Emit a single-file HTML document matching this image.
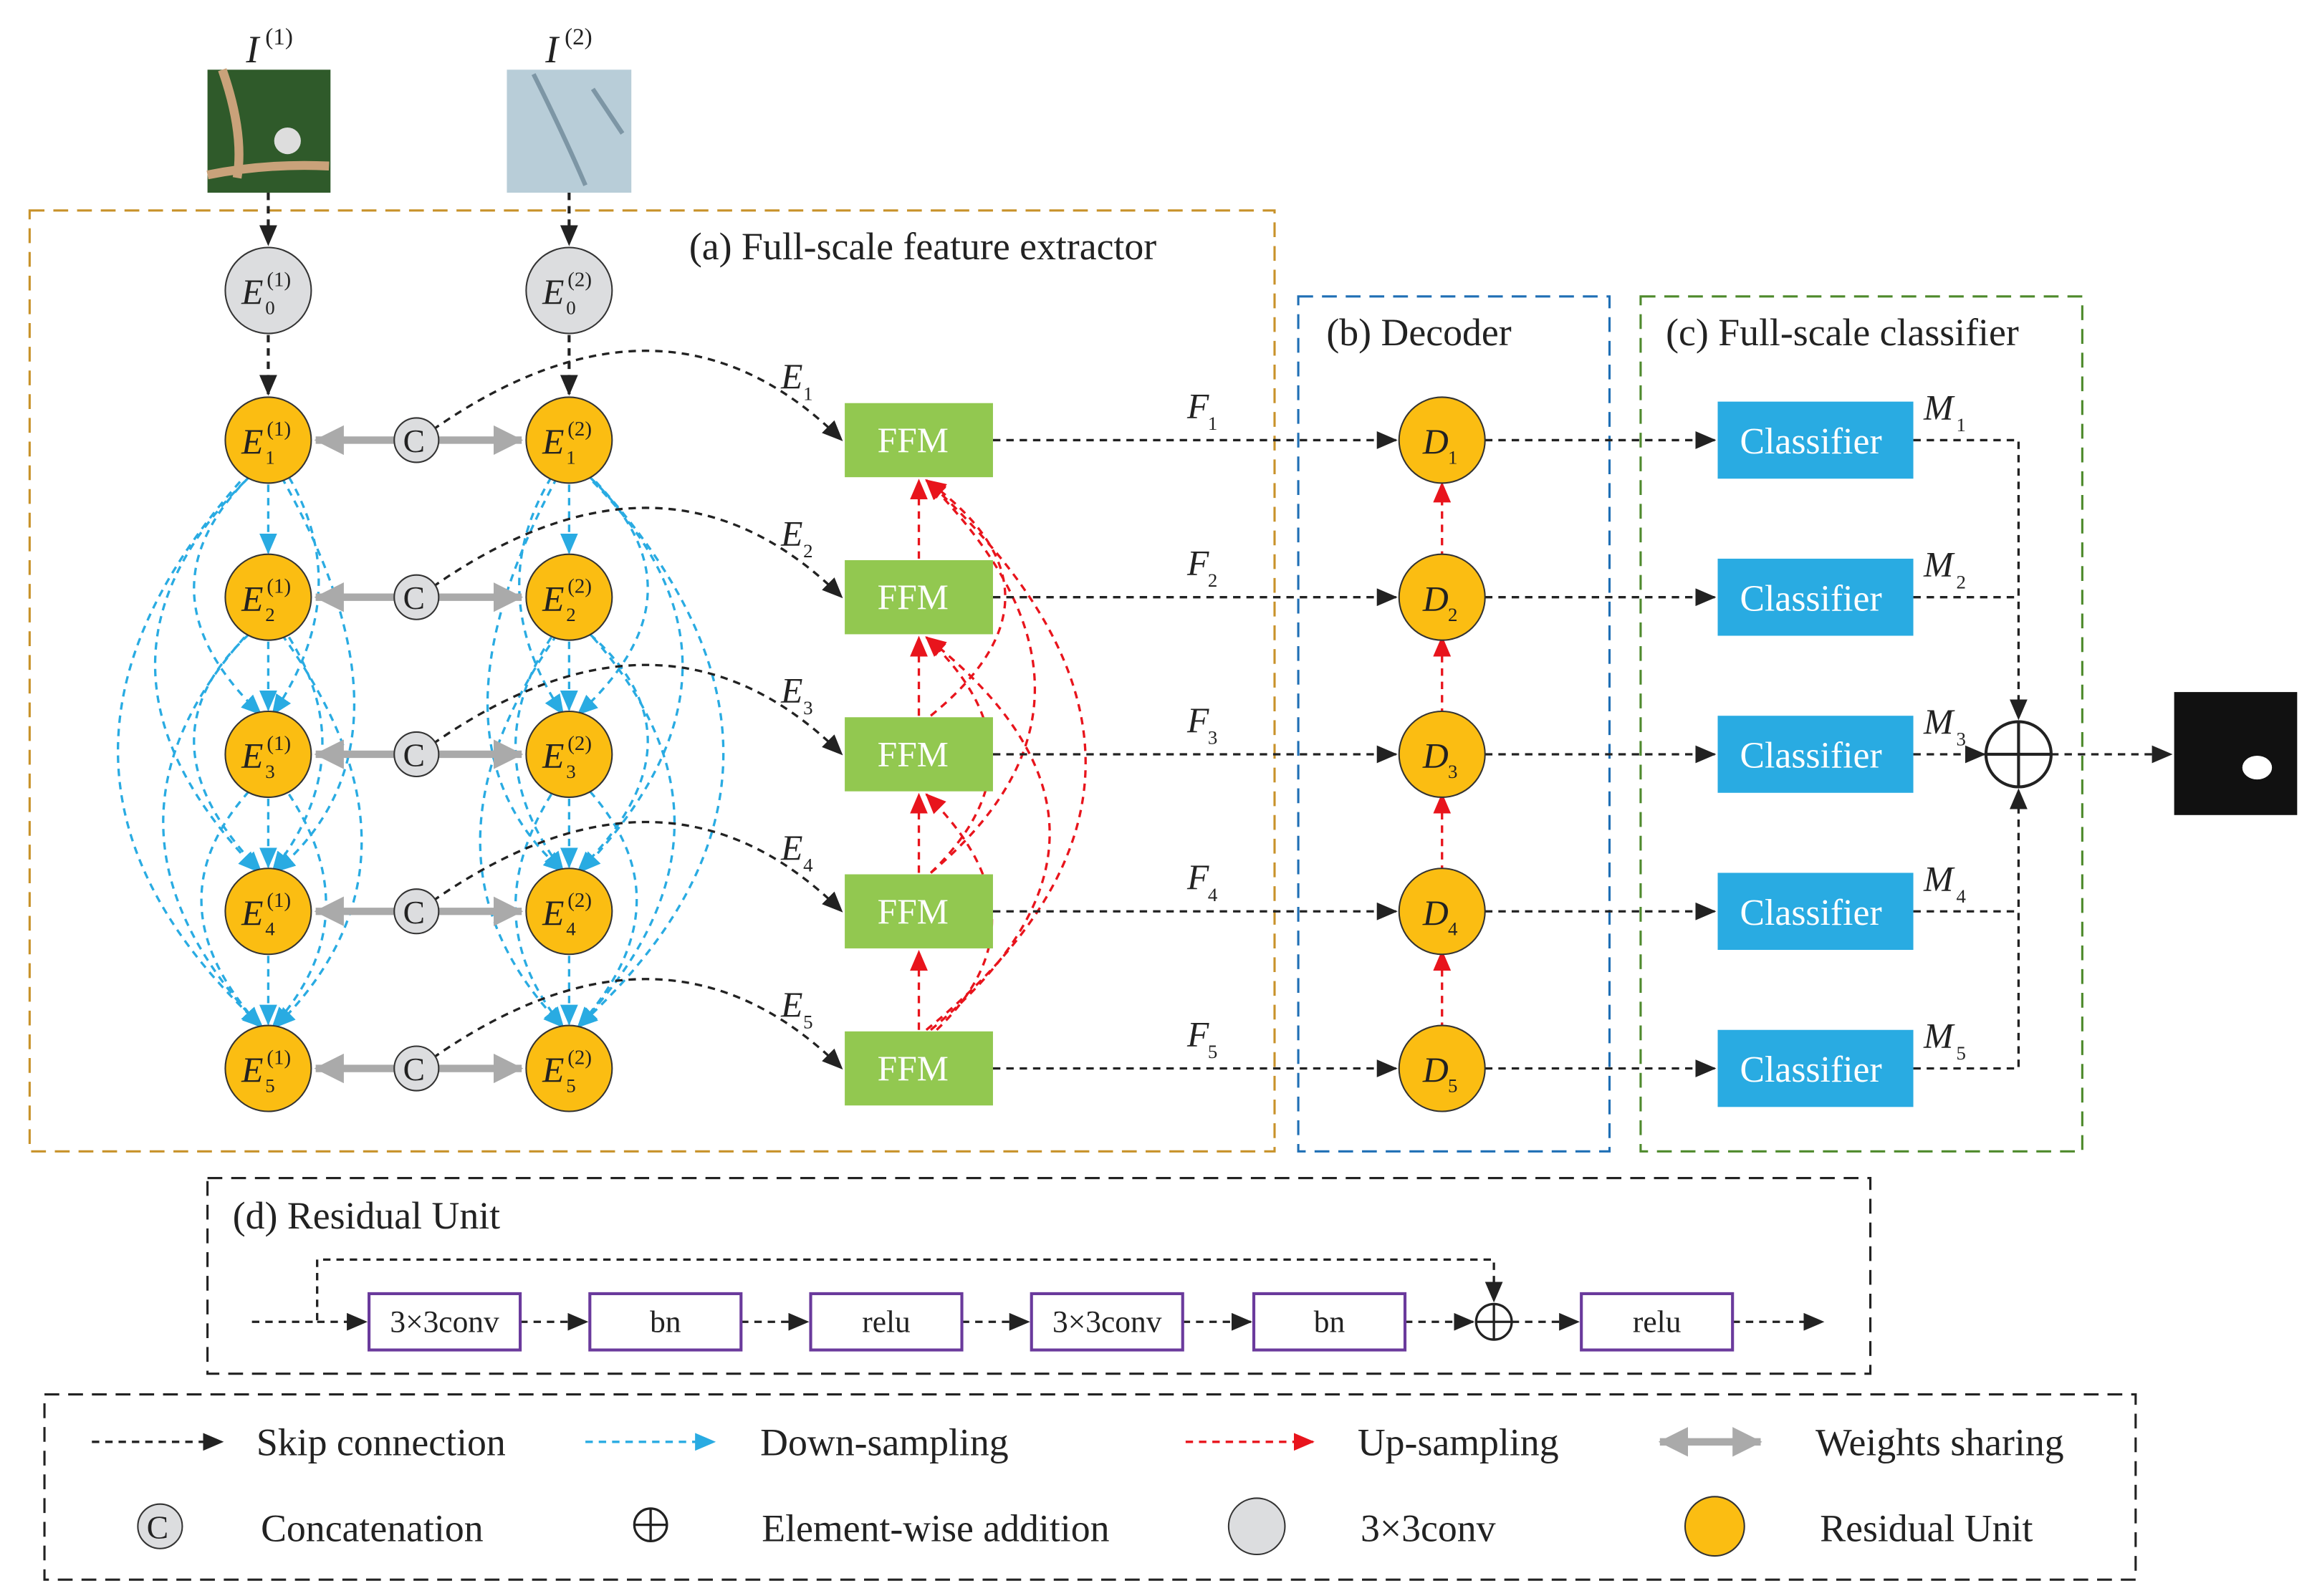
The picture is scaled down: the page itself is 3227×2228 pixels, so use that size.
<!DOCTYPE html>
<html><head><meta charset="utf-8"><style>html,body{margin:0;padding:0;background:#fff}svg{display:block}
text{font-family:"Liberation Serif",serif;fill:#222}</style></head><body>
<svg width="3227" height="2228" viewBox="0 0 1560 1077" xmlns="http://www.w3.org/2000/svg">
<defs>
<marker id="akb" markerWidth="14" markerHeight="12" refX="13" refY="6" orient="auto" markerUnits="userSpaceOnUse"><path d="M0,0 L14,6 L0,12z" fill="#222"/></marker>
<marker id="ab" markerWidth="14" markerHeight="12" refX="13" refY="6" orient="auto" markerUnits="userSpaceOnUse"><path d="M0,0 L14,6 L0,12z" fill="#29abe2"/></marker>
<marker id="ar" markerWidth="14" markerHeight="12" refX="13" refY="6" orient="auto" markerUnits="userSpaceOnUse"><path d="M0,0 L14,6 L0,12z" fill="#e8141c"/></marker>
<marker id="ag" markerWidth="20" markerHeight="20" refX="19" refY="10" orient="auto" markerUnits="userSpaceOnUse"><path d="M0,0 L20,10 L0,20z" fill="#aaa"/></marker>
</defs>

<rect x="140" y="47" width="83" height="83" fill="#2f5a2a"/>
<path d="M150,47 Q165,90 160,120 M140,118 Q180,110 222,112" stroke="#c9a27a" stroke-width="6" fill="none"/>
<circle cx="194" cy="95" r="9" fill="#ddd"/>
<rect x="342" y="47" width="84" height="83" fill="#b8cdd8"/>
<path d="M360,50 Q380,90 395,125 M400,60 L420,90" stroke="#7d96a5" stroke-width="3" fill="none"/>
<text x="166" y="42" font-size="26" font-style="italic">I</text><text x="179" y="30" font-size="16">(1)</text>
<text x="368" y="42" font-size="26" font-style="italic">I</text><text x="381" y="30" font-size="16">(2)</text>

<rect x="20" y="142" width="840" height="635" fill="none" stroke="#c8922a" stroke-width="1.5" stroke-dasharray="10,6"/>
<rect x="876" y="200" width="210" height="577" fill="none" stroke="#1f6fb5" stroke-width="1.5" stroke-dasharray="10,6"/>
<rect x="1107" y="200" width="298" height="577" fill="none" stroke="#4e8a2c" stroke-width="1.5" stroke-dasharray="10,6"/>
<text x="465" y="175" font-size="26">(a) Full-scale feature extractor</text>
<text x="895" y="233" font-size="26">(b) Decoder</text>
<text x="1124" y="233" font-size="26">(c) Full-scale classifier</text>

<g stroke="#222" stroke-width="2" stroke-dasharray="5,4" fill="none">
<path d="M181,130 V165" marker-end="url(#akb)"/><path d="M384,130 V165" marker-end="url(#akb)"/>
<path d="M181,226 V266" marker-end="url(#akb)"/><path d="M384,226 V266" marker-end="url(#akb)"/>
</g>

<g stroke="#29abe2" stroke-width="1.6" stroke-dasharray="5,4" fill="none" marker-end="url(#ab)">
<path d="M181,327 V373"/><path d="M181,433 V479"/><path d="M181,539 V585"/><path d="M181,645 V691"/>
<path d="M384,327 V373"/><path d="M384,433 V479"/><path d="M384,539 V585"/><path d="M384,645 V691"/>
<path d="M168,322 Q90,400 176,482"/><path d="M165,325 Q40,450 174,588"/><path d="M162,325 Q-10,520 177,693"/>
<path d="M168,428 Q90,500 176,588"/><path d="M165,430 Q50,560 176,693"/><path d="M168,534 Q100,610 176,693"/>
<path d="M195,322 Q240,400 184,482"/><path d="M195,430 Q245,510 184,588"/><path d="M195,536 Q250,620 184,693"/>
<path d="M190,322 Q290,500 186,588"/><path d="M190,428 Q300,580 186,693"/>
<path d="M398,322 Q480,400 390,482"/><path d="M400,325 Q525,450 392,588"/><path d="M402,325 Q580,520 390,693"/>
<path d="M398,428 Q480,500 390,588"/><path d="M400,430 Q515,560 390,693"/><path d="M398,534 Q465,610 390,693"/>
<path d="M372,322 Q325,400 380,482"/><path d="M372,430 Q320,510 380,588"/><path d="M372,536 Q320,620 380,693"/>
<path d="M376,322 Q280,500 380,588"/><path d="M376,428 Q270,580 380,693"/>
</g>

<g stroke="#e8141c" stroke-width="1.6" stroke-dasharray="5,4" fill="none" marker-end="url(#ar)">
<path d="M620,483 V430"/><path d="M620,589 V536"/><path d="M620,695 V642"/><path d="M620,377 V324"/>
<path d="M973,695 V642"/><path d="M973,589 V536"/><path d="M973,483 V430"/><path d="M973,377 V326"/>
<path d="M625,695 Q840,520 625,324"/><path d="M628,695 Q790,560 625,430"/><path d="M632,695 Q710,620 625,536"/>
<path d="M628,589 Q770,470 625,324"/><path d="M628,589 Q710,510 625,430"/><path d="M628,483 Q730,400 625,324"/>
</g>

<g stroke="#222" stroke-width="1.6" stroke-dasharray="5,4" fill="none" marker-end="url(#akb)">
<path d="M292,290 Q450,180 568,297"/><path d="M292,396 Q450,286 568,403"/><path d="M292,502 Q450,392 568,509"/><path d="M292,608 Q450,498 568,615"/><path d="M292,714 Q450,604 568,721"/>
<path d="M670,297 H942"/><path d="M670,403 H942"/><path d="M670,509 H942"/><path d="M670,615 H942"/><path d="M670,721 H942"/>
<path d="M1002,297 H1157"/><path d="M1002,403 H1157"/><path d="M1002,509 H1157"/><path d="M1002,615 H1157"/><path d="M1002,721 H1157"/>
<path d="M1291,509 H1339"/><path d="M1384,509 H1465"/>
<path d="M1291,297 H1362 V485"/><path d="M1291,721 H1362 V533"/>
</g>
<g stroke="#222" stroke-width="1.6" stroke-dasharray="5,4" fill="none">
<path d="M1291,403 H1362"/><path d="M1291,615 H1362"/>
</g>
<circle cx="1362" cy="509" r="22" fill="#fff" stroke="#222" stroke-width="2"/>
<path d="M1340,509 H1384 M1362,487 V531" stroke="#222" stroke-width="2"/>
<rect x="1467" y="467" width="83" height="83" fill="#111"/>
<ellipse cx="1523" cy="518" rx="10" ry="8" fill="#fff"/>

<g font-size="24">
<circle cx="181" cy="196" r="29" fill="#dcdddf" stroke="#333"/><circle cx="384" cy="196" r="29" fill="#dcdddf" stroke="#333"/>
<text x="163" y="205" font-style="italic">E</text><text x="180" y="193" font-size="14">(1)</text><text x="179" y="212" font-size="13">0</text>
<text x="366" y="205" font-style="italic">E</text><text x="383" y="193" font-size="14">(2)</text><text x="382" y="212" font-size="13">0</text>
</g>
<g font-size="24">
<path d="M266,297 H213" stroke="#aaa" stroke-width="5" marker-end="url(#ag)"/><path d="M296,297 H352" stroke="#aaa" stroke-width="5" marker-end="url(#ag)"/>
<circle cx="181" cy="297" r="29" fill="#fbbd12" stroke="#333"/><circle cx="384" cy="297" r="29" fill="#fbbd12" stroke="#333"/>
<circle cx="281" cy="297" r="15" fill="#dcdddf" stroke="#333"/><text x="272" y="305" font-size="22">C</text>
<text x="163" y="306" font-style="italic">E</text><text x="180" y="294" font-size="14">(1)</text><text x="179" y="313" font-size="13">1</text>
<text x="366" y="306" font-style="italic">E</text><text x="383" y="294" font-size="14">(2)</text><text x="382" y="313" font-size="13">1</text>
<rect x="570" y="272" width="100" height="50" fill="#92c850"/><text x="592" y="305" style="fill:#fff">FFM</text>
<text x="527" y="262" font-style="italic">E</text><text x="542" y="270" font-size="13">1</text>
<text x="801" y="282" font-style="italic">F</text><text x="815" y="290" font-size="13">1</text>
<circle cx="973" cy="297" r="29" fill="#fbbd12" stroke="#333"/><text x="960" y="306" font-style="italic">D</text><text x="977" y="313" font-size="13">1</text>
<rect x="1159" y="271" width="132" height="52" fill="#29abe2"/><text x="1174" y="306" font-size="25" style="fill:#fff">Classifier</text>
<text x="1298" y="283" font-style="italic">M</text><text x="1320" y="291" font-size="13">1</text>
</g>
<g font-size="24" transform="translate(0,106)">
<path d="M266,297 H213" stroke="#aaa" stroke-width="5" marker-end="url(#ag)"/><path d="M296,297 H352" stroke="#aaa" stroke-width="5" marker-end="url(#ag)"/>
<circle cx="181" cy="297" r="29" fill="#fbbd12" stroke="#333"/><circle cx="384" cy="297" r="29" fill="#fbbd12" stroke="#333"/>
<circle cx="281" cy="297" r="15" fill="#dcdddf" stroke="#333"/><text x="272" y="305" font-size="22">C</text>
<text x="163" y="306" font-style="italic">E</text><text x="180" y="294" font-size="14">(1)</text><text x="179" y="313" font-size="13">2</text>
<text x="366" y="306" font-style="italic">E</text><text x="383" y="294" font-size="14">(2)</text><text x="382" y="313" font-size="13">2</text>
<rect x="570" y="272" width="100" height="50" fill="#92c850"/><text x="592" y="305" style="fill:#fff">FFM</text>
<text x="527" y="262" font-style="italic">E</text><text x="542" y="270" font-size="13">2</text>
<text x="801" y="282" font-style="italic">F</text><text x="815" y="290" font-size="13">2</text>
<circle cx="973" cy="297" r="29" fill="#fbbd12" stroke="#333"/><text x="960" y="306" font-style="italic">D</text><text x="977" y="313" font-size="13">2</text>
<rect x="1159" y="271" width="132" height="52" fill="#29abe2"/><text x="1174" y="306" font-size="25" style="fill:#fff">Classifier</text>
<text x="1298" y="283" font-style="italic">M</text><text x="1320" y="291" font-size="13">2</text>
</g>
<g font-size="24" transform="translate(0,212)">
<path d="M266,297 H213" stroke="#aaa" stroke-width="5" marker-end="url(#ag)"/><path d="M296,297 H352" stroke="#aaa" stroke-width="5" marker-end="url(#ag)"/>
<circle cx="181" cy="297" r="29" fill="#fbbd12" stroke="#333"/><circle cx="384" cy="297" r="29" fill="#fbbd12" stroke="#333"/>
<circle cx="281" cy="297" r="15" fill="#dcdddf" stroke="#333"/><text x="272" y="305" font-size="22">C</text>
<text x="163" y="306" font-style="italic">E</text><text x="180" y="294" font-size="14">(1)</text><text x="179" y="313" font-size="13">3</text>
<text x="366" y="306" font-style="italic">E</text><text x="383" y="294" font-size="14">(2)</text><text x="382" y="313" font-size="13">3</text>
<rect x="570" y="272" width="100" height="50" fill="#92c850"/><text x="592" y="305" style="fill:#fff">FFM</text>
<text x="527" y="262" font-style="italic">E</text><text x="542" y="270" font-size="13">3</text>
<text x="801" y="282" font-style="italic">F</text><text x="815" y="290" font-size="13">3</text>
<circle cx="973" cy="297" r="29" fill="#fbbd12" stroke="#333"/><text x="960" y="306" font-style="italic">D</text><text x="977" y="313" font-size="13">3</text>
<rect x="1159" y="271" width="132" height="52" fill="#29abe2"/><text x="1174" y="306" font-size="25" style="fill:#fff">Classifier</text>
<text x="1298" y="283" font-style="italic">M</text><text x="1320" y="291" font-size="13">3</text>
</g>
<g font-size="24" transform="translate(0,318)">
<path d="M266,297 H213" stroke="#aaa" stroke-width="5" marker-end="url(#ag)"/><path d="M296,297 H352" stroke="#aaa" stroke-width="5" marker-end="url(#ag)"/>
<circle cx="181" cy="297" r="29" fill="#fbbd12" stroke="#333"/><circle cx="384" cy="297" r="29" fill="#fbbd12" stroke="#333"/>
<circle cx="281" cy="297" r="15" fill="#dcdddf" stroke="#333"/><text x="272" y="305" font-size="22">C</text>
<text x="163" y="306" font-style="italic">E</text><text x="180" y="294" font-size="14">(1)</text><text x="179" y="313" font-size="13">4</text>
<text x="366" y="306" font-style="italic">E</text><text x="383" y="294" font-size="14">(2)</text><text x="382" y="313" font-size="13">4</text>
<rect x="570" y="272" width="100" height="50" fill="#92c850"/><text x="592" y="305" style="fill:#fff">FFM</text>
<text x="527" y="262" font-style="italic">E</text><text x="542" y="270" font-size="13">4</text>
<text x="801" y="282" font-style="italic">F</text><text x="815" y="290" font-size="13">4</text>
<circle cx="973" cy="297" r="29" fill="#fbbd12" stroke="#333"/><text x="960" y="306" font-style="italic">D</text><text x="977" y="313" font-size="13">4</text>
<rect x="1159" y="271" width="132" height="52" fill="#29abe2"/><text x="1174" y="306" font-size="25" style="fill:#fff">Classifier</text>
<text x="1298" y="283" font-style="italic">M</text><text x="1320" y="291" font-size="13">4</text>
</g>
<g font-size="24" transform="translate(0,424)">
<path d="M266,297 H213" stroke="#aaa" stroke-width="5" marker-end="url(#ag)"/><path d="M296,297 H352" stroke="#aaa" stroke-width="5" marker-end="url(#ag)"/>
<circle cx="181" cy="297" r="29" fill="#fbbd12" stroke="#333"/><circle cx="384" cy="297" r="29" fill="#fbbd12" stroke="#333"/>
<circle cx="281" cy="297" r="15" fill="#dcdddf" stroke="#333"/><text x="272" y="305" font-size="22">C</text>
<text x="163" y="306" font-style="italic">E</text><text x="180" y="294" font-size="14">(1)</text><text x="179" y="313" font-size="13">5</text>
<text x="366" y="306" font-style="italic">E</text><text x="383" y="294" font-size="14">(2)</text><text x="382" y="313" font-size="13">5</text>
<rect x="570" y="272" width="100" height="50" fill="#92c850"/><text x="592" y="305" style="fill:#fff">FFM</text>
<text x="527" y="262" font-style="italic">E</text><text x="542" y="270" font-size="13">5</text>
<text x="801" y="282" font-style="italic">F</text><text x="815" y="290" font-size="13">5</text>
<circle cx="973" cy="297" r="29" fill="#fbbd12" stroke="#333"/><text x="960" y="306" font-style="italic">D</text><text x="977" y="313" font-size="13">5</text>
<rect x="1159" y="271" width="132" height="52" fill="#29abe2"/><text x="1174" y="306" font-size="25" style="fill:#fff">Classifier</text>
<text x="1298" y="283" font-style="italic">M</text><text x="1320" y="291" font-size="13">5</text>
</g>

<rect x="140" y="795" width="1122" height="132" fill="none" stroke="#222" stroke-width="1.5" stroke-dasharray="10,6"/>
<text x="157" y="829" font-size="26">(d) Residual Unit</text>
<g stroke="#222" stroke-width="1.6" stroke-dasharray="5,4" fill="none">
<path d="M170,892 H214 V850 H1008 V878" marker-end="url(#akb)"/>
<path d="M214,892 H247" marker-end="url(#akb)"/>
<path d="M351,892 H396" marker-end="url(#akb)"/><path d="M500,892 H545" marker-end="url(#akb)"/>
<path d="M649,892 H694" marker-end="url(#akb)"/><path d="M798,892 H844" marker-end="url(#akb)"/>
<path d="M948,892 H994" marker-end="url(#akb)"/><path d="M1020,892 H1065" marker-end="url(#akb)"/>
<path d="M1169,892 H1230" marker-end="url(#akb)"/>
</g>
<g fill="#fff" stroke="#6a3a9c" stroke-width="2">
<rect x="249" y="873" width="102" height="38"/><rect x="398" y="873" width="102" height="38"/><rect x="547" y="873" width="102" height="38"/>
<rect x="696" y="873" width="102" height="38"/><rect x="846" y="873" width="102" height="38"/><rect x="1067" y="873" width="102" height="38"/>
</g>
<g font-size="21" text-anchor="middle">
<text x="300" y="899">3×3conv</text><text x="449" y="899">bn</text><text x="598" y="899">relu</text>
<text x="747" y="899">3×3conv</text><text x="897" y="899">bn</text><text x="1118" y="899">relu</text>
</g>
<circle cx="1008" cy="892" r="12" fill="#fff" stroke="#222" stroke-width="1.6"/>
<path d="M996,892 H1020 M1008,880 V904" stroke="#222" stroke-width="1.6"/>

<rect x="30" y="941" width="1411" height="125" fill="none" stroke="#222" stroke-width="1.5" stroke-dasharray="10,6"/>
<path d="M62,973 H150" stroke="#222" stroke-width="1.6" stroke-dasharray="5,4" marker-end="url(#akb)"/>
<path d="M395,973 H482" stroke="#29abe2" stroke-width="1.6" stroke-dasharray="5,4" marker-end="url(#ab)"/>
<path d="M800,973 H886" stroke="#e8141c" stroke-width="1.6" stroke-dasharray="5,4" marker-end="url(#ar)"/>
<path d="M1140,973 H1120" stroke="#aaa" stroke-width="5" marker-end="url(#ag)"/><path d="M1168,973 H1188" stroke="#aaa" stroke-width="5" marker-end="url(#ag)"/>
<path d="M1132,973 H1176" stroke="#aaa" stroke-width="5"/>
<g font-size="26">
<text x="173" y="982">Skip connection</text><text x="513" y="982">Down-sampling</text>
<text x="916" y="982">Up-sampling</text><text x="1225" y="982">Weights sharing</text>
<circle cx="108" cy="1030" r="15" fill="#dcdddf" stroke="#333"/><text x="99" y="1038" font-size="22">C</text>
<text x="176" y="1040">Concatenation</text>
<circle cx="439" cy="1029" r="11" fill="none" stroke="#222" stroke-width="1.6"/><path d="M428,1029 H450 M439,1018 V1040" stroke="#222" stroke-width="1.6"/>
<text x="514" y="1040">Element-wise addition</text>
<circle cx="848" cy="1030" r="19" fill="#dcdddf" stroke="#333"/><text x="918" y="1040">3×3conv</text>
<circle cx="1157" cy="1030" r="20" fill="#fbbd12" stroke="#333"/><text x="1228" y="1040">Residual Unit</text>
</g>
</svg>
</body></html>
